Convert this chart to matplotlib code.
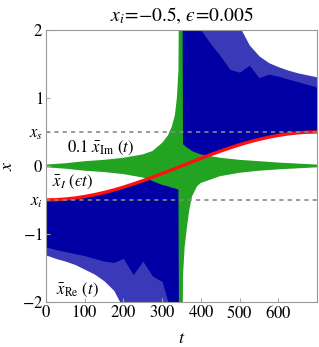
import numpy as np
import matplotlib
matplotlib.use('Agg')
import matplotlib.pyplot as plt

# 字体：衬线 + stix 数学字体
plt.rcParams['font.family'] = ['Liberation Serif', 'DejaVu Serif']
plt.rcParams['mathtext.fontset'] = 'stix'

# 红线 x_I(eps t)
t_red = [0, 25, 50, 75, 100, 125, 150, 175, 200, 225, 250, 275, 300, 325, 350,
         375, 400, 425, 450, 475, 500, 525, 550, 575, 600, 625, 650, 675, 700]
x_red = [-0.500, -0.497, -0.487, -0.472, -0.450, -0.423, -0.391, -0.354, -0.312,
         -0.266, -0.217, -0.166, -0.111, -0.056, 0.0, 0.056, 0.111, 0.166, 0.217,
         0.266, 0.312, 0.354, 0.391, 0.423, 0.450, 0.472, 0.487, 0.497, 0.500]

# 蓝色 x_Re(t) 包络 —— 左半部分（红线下方）
t_re_l = t_red[:15]
re_l_outer = [-1.31, -1.36, -1.40, -1.45, -1.52, -1.59, -1.69, -1.83, -2.1,
              -2.4, -2.6, -2.8, -3.0, -3.0, -3.0]
re_l_core = [-1.19, -1.23, -1.26, -1.29, -1.32, -1.36, -1.40, -1.42, -1.36,
             -1.60, -1.40, -1.62, -1.70, -2.2, -3.0]

# 右半部分（红线上方）
t_re_r = t_red[14:]
re_r_outer = [3.0, 3.0, 3.0, 3.0, 3.0, 2.6, 2.05, 1.78, 1.62, 1.52, 1.46, 1.41,
              1.37, 1.34, 1.31]
re_r_core = [3.0, 2.3, 2.0, 1.8, 1.62, 1.42, 1.38, 1.48, 1.30, 1.35, 1.32, 1.28,
             1.24, 1.20, 1.16]

# 绿色 0.1 x_Im(t) 包络
t_im = [0, 25, 50, 100, 150, 200, 250, 275, 300, 315, 325, 333, 338, 342, 344,
        352, 354, 358, 364, 370, 377, 390, 400, 450, 500, 550, 600, 650, 700]
im_up = [0.02, 0.03, 0.04, 0.07, 0.09, 0.12, 0.17, 0.22, 0.34, 0.45, 0.58,
         0.75, 1.0, 1.4, 3.0, 3.0, 0.32, 0.30, 0.27, 0.25, 0.22, 0.19, 0.17,
         0.12, 0.09, 0.07, 0.05, 0.035, 0.02]
im_lo = [-0.02, -0.03, -0.04, -0.07, -0.09, -0.12, -0.17, -0.22, -0.28, -0.30,
         -0.32, -0.33, -0.34, -0.35, -3.0, -3.0, -1.6, -1.2, -0.9, -0.65, -0.45,
         -0.30, -0.25, -0.15, -0.10, -0.07, -0.05, -0.035, -0.02]

fig = plt.figure(figsize=(3.19, 3.47), dpi=100)
ax = fig.add_axes([0.144, 0.13, 0.85, 0.7835])

blue_out = '#3a3ab8'
blue_in = '#0000a4'
ax.fill_between(t_re_l, re_l_outer, x_red[:15], color=blue_out, lw=0)
ax.fill_between(t_re_l, re_l_core, x_red[:15], color=blue_in, lw=0)
ax.fill_between(t_re_r, x_red[14:], re_r_outer, color=blue_out, lw=0)
ax.fill_between(t_re_r, x_red[14:], re_r_core, color=blue_in, lw=0)

ax.fill_between(t_im, im_lo, im_up, color='#22a322', lw=0)

ax.plot(t_red, x_red, color='#ff1010', lw=2.4, solid_capstyle='butt')

for y in (0.5, -0.5):
    ax.axhline(y, color='#888888', lw=1.2, ls=(0, (2.5, 2.5)))

ax.set_xlim(0, 700)
ax.set_ylim(-2, 2)
ax.set_xticks([0, 100, 200, 300, 400, 500, 600])
ax.set_yticks([-2, -1, -0.5, 0, 0.5, 1, 2])
ax.set_yticklabels(['$-2$', '$-1$', '$x_i$', '$0$', '$x_s$', '$1$', '$2$'])
ax.set_xticklabels(['$%d$' % v for v in [0, 100, 200, 300, 400, 500, 600]])
ax.tick_params(direction='in', length=3, color='#aaaaaa', labelsize=12, pad=2)
for s in ax.spines.values():
    s.set_color('#999999')

ax.set_xlabel('$t$', fontsize=13, labelpad=6)
ax.set_ylabel('$x$', fontsize=13, labelpad=4)
ax.set_title('$x_i\\!=\\!{-}0.5,\\,\u03f5\\!=\\!0.005$', fontsize=14, pad=6)

ax.text(55, 0.26, r'$0.1\ \bar{x}_{\rm Im}\ (t)$', fontsize=12, va='center')
ax.text(15, -0.24, '$\\bar{x}_I\\ (\u03f5 t)$', fontsize=12, va='center')
ax.text(25, -1.83, r'$\bar{x}_{\rm Re}\ (t)$', fontsize=12, va='center')

fig.savefig('out.png', dpi=100)
